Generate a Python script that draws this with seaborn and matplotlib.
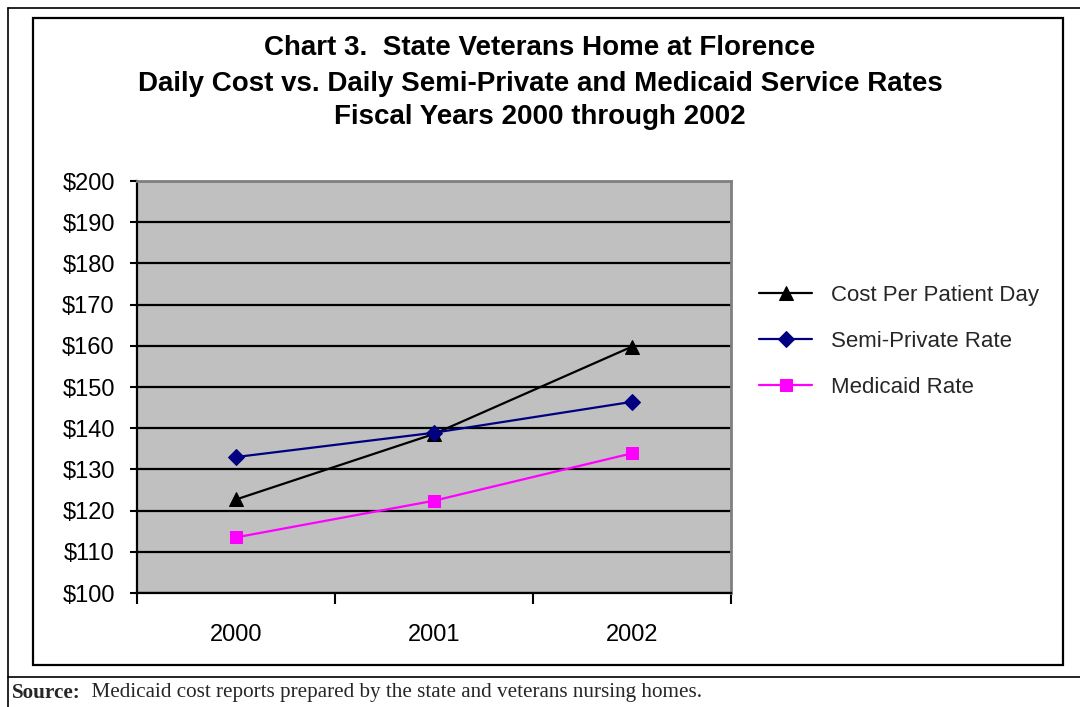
import matplotlib
matplotlib.use("Agg")
import matplotlib.pyplot as plt
from matplotlib.lines import Line2D
from matplotlib.patches import Rectangle
from matplotlib.ticker import FixedLocator
import seaborn as sns
import pandas as pd

# ---- data ----
years = ["2000", "2001", "2002"]
cost_per_patient_day = [122.7, 138.6, 159.8]
semi_private_rate = [133.0, 138.9, 146.4]
medicaid_rate = [113.5, 122.4, 133.9]
series_names = ["Cost Per Patient Day", "Semi-Private Rate", "Medicaid Rate"]
y_ticks = [100, 110, 120, 130, 140, 150, 160, 170, 180, 190, 200]
y_tick_labels = ["$100", "$110", "$120", "$130", "$140", "$150",
                 "$160", "$170", "$180", "$190", "$200"]
title_lines = ["Chart 3.  State Veterans Home at Florence",
               "Daily Cost vs. Daily Semi-Private and Medicaid Service Rates",
               "Fiscal Years 2000 through 2002"]
source_bold = "Source:"
source_text = "  Medicaid cost reports prepared by the state and veterans nursing homes."

sns.set_theme(style="white")
plt.rcParams["font.family"] = ["Liberation Sans", "DejaVu Sans"]

W, H = 1080, 707
fig = plt.figure(figsize=(W / 100, H / 100), dpi=100)
fig.patch.set_facecolor("white")

def fx(px):
    return px / W

def fy(py):
    return 1 - py / H

ax = fig.add_axes([fx(137), fy(593), fx(731) - fx(137), fy(181) - fy(593)])
ax.set_facecolor("#C0C0C0")

values = [cost_per_patient_day, semi_private_rate, medicaid_rate]
colors = ["black", "#000080", "#FF00FF"]
markers = ["^", "D", "s"]
msizes = [10, 8, 8]

for name, vals, c, m, ms in zip(series_names, values, colors, markers, msizes):
    df = pd.DataFrame({"year": years, "value": vals})
    sns.lineplot(data=df, x="year", y="value", ax=ax, color=c, marker=m,
                 markersize=ms, markeredgecolor=c, markerfacecolor=c,
                 linewidth=1.6, label=name, zorder=5, clip_on=False)

ax.set_xlim(-0.5, 2.5)
ax.set_ylim(100, 200)
ax.set_xlabel("")
ax.set_ylabel("")

ax.set_yticks(y_ticks)
ax.set_yticklabels(y_tick_labels, fontsize=17, color="black")
ax.tick_params(axis="y", which="major", direction="out", length=5, width=1.5,
               color="black", pad=11, left=True)

ax.set_xticks(range(len(years)))
ax.set_xticklabels(years, fontsize=17, color="black")
ax.xaxis.set_minor_locator(FixedLocator([-0.5, 0.5, 1.5, 2.5]))
ax.tick_params(axis="x", which="major", length=0, pad=22)
ax.tick_params(axis="x", which="minor", direction="out", length=8, width=1.5,
               color="black", bottom=True)

ax.yaxis.grid(True, color="black", linewidth=1.6)
ax.xaxis.grid(False)
ax.set_axisbelow(True)

for s in ["left", "bottom"]:
    ax.spines[s].set_color("black")
    ax.spines[s].set_linewidth(1.6)
for s in ["top", "right"]:
    ax.spines[s].set_color("#808080")
    ax.spines[s].set_linewidth(2)
    ax.spines[s].set_visible(True)

handles, labels = ax.get_legend_handles_labels()
ax.legend(handles, labels, loc="upper left",
          bbox_to_anchor=(fx(759), fy(285)), bbox_transform=fig.transFigure,
          frameon=False, fontsize=16, handlelength=2.4, handletextpad=0.85,
          labelspacing=1.13, borderpad=0, borderaxespad=0)

# titles
for txt, y in zip(title_lines, [45, 81, 114]):
    fig.text(0.5, fy(y + 3), txt, ha="center", va="center", fontsize=20,
             fontweight="bold", color="black")

# frames
fig.add_artist(Rectangle((fx(33), fy(665)), fx(1063) - fx(33), fy(18) - fy(665),
                         transform=fig.transFigure, fill=False,
                         edgecolor="black", linewidth=1.6))
fig.add_artist(Line2D([fx(8), 1.0], [fy(8), fy(8)], transform=fig.transFigure,
                      color="black", linewidth=1.2))
fig.add_artist(Line2D([fx(8), fx(8)], [fy(8), 0.0], transform=fig.transFigure,
                      color="black", linewidth=1.2))
fig.add_artist(Line2D([fx(8), 1.0], [fy(677), fy(677)], transform=fig.transFigure,
                      color="black", linewidth=1.2))

# source note
t1 = fig.text(fx(12), fy(693), source_bold, ha="left", va="center",
              fontsize=15.2, fontweight="bold", family=["Liberation Serif", "DejaVu Serif"])
fig.canvas.draw()
bb = t1.get_window_extent(renderer=fig.canvas.get_renderer())
fig.text(bb.x1 / W, fy(693), source_text, ha="left", va="center",
         fontsize=15.2, family=["Liberation Serif", "DejaVu Serif"])

fig.savefig("out.png", dpi=100, facecolor="white")
